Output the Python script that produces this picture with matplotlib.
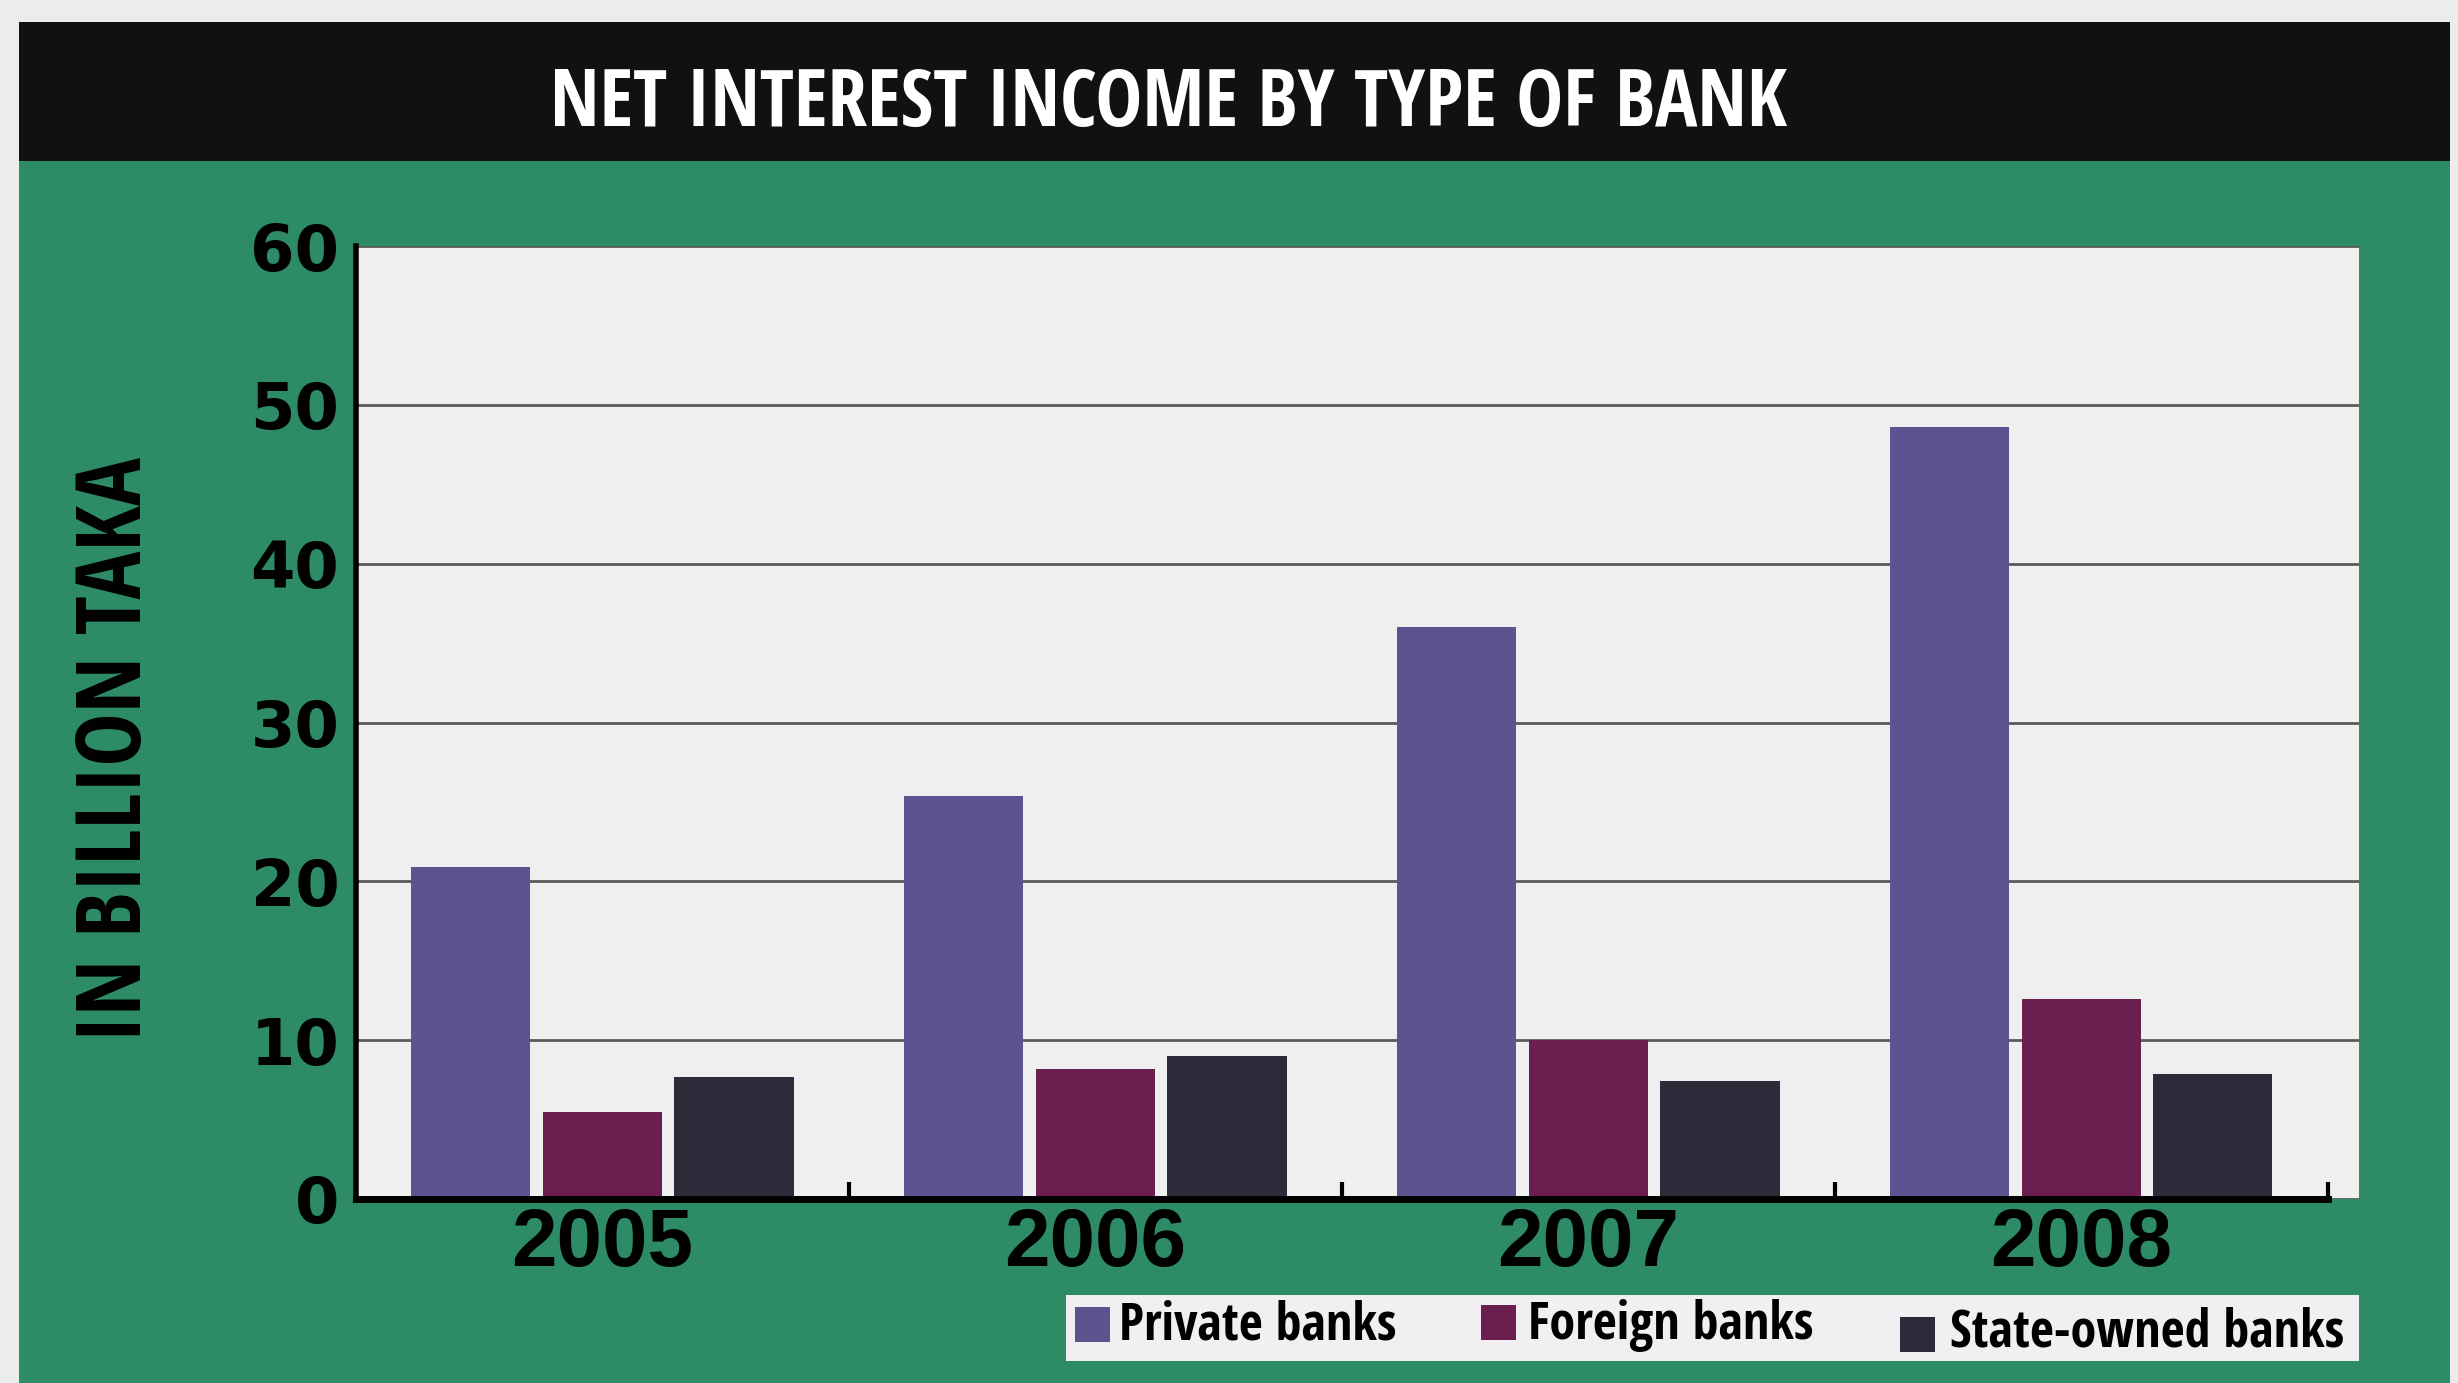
import matplotlib
matplotlib.use("Agg")
import matplotlib.pyplot as plt
from matplotlib import font_manager
from matplotlib.font_manager import FontProperties
from matplotlib.textpath import TextPath
from matplotlib.patches import Rectangle
import numpy as np

# ---- data ----
years = ["2005", "2006", "2007", "2008"]
series_names = ["Private banks", "Foreign banks", "State-owned banks"]
private = [20.9, 25.4, 36.0, 48.6]
foreign = [5.5, 8.2, 10.0, 12.6]
state = [7.7, 9.0, 7.4, 7.9]
yticks = [0, 10, 20, 30, 40, 50, 60]
title = "NET INTEREST INCOME BY TYPE OF BANK"
ylabel = "IN BILLION TAKA"

colors = ["#5e5290", "#6a1f4e", "#2e2a3a"]
green = "#2d8b66"
DPI = 100


def text_width(s, fp):
    p = TextPath((0, 0), s, size=100, prop=fp)
    return p.get_extents().width


def cap_height(fp):
    p = TextPath((0, 0), "N", size=100, prop=fp)
    return p.get_extents().height


def weight_num(w):
    if isinstance(w, (int, float)):
        return w
    return {"bold": 700, "heavy": 800, "black": 900, "semibold": 600, "demibold": 600,
            "extra bold": 800, "ultrabold": 800}.get(str(w).lower(), 400)


# choose a bold sans face whose proportions best match the condensed headline font
target_ratio = 1232 / 55.0
allowed = ("DejaVu Sans", "Noto Sans", "Liberation Sans", "Roboto", "Open Sans", "Lato", "Inter")
best = None
seen = set()
for f in font_manager.fontManager.ttflist:
    if not f.name.startswith(allowed):
        continue
    if any(k in f.name for k in ("Mono", "CJK", "Serif", "Math", "Display")):
        continue
    if weight_num(f.weight) < 700 or f.style != "normal":
        continue
    if f.fname in seen or not f.fname.lower().endswith((".ttf", ".otf")):
        continue
    seen.add(f.fname)
    try:
        fp = FontProperties(fname=f.fname)
        if abs(text_width("iiii", fp) - text_width("MMMM", fp)) < 5:
            continue  # monospaced
        r = text_width(title, fp) / cap_height(fp)
    except Exception:
        continue
    score = abs(r - target_ratio)
    if best is None or score < best[0]:
        best = (score, f.fname)

COND_FILE = best[1] if best else None


def cond_fp(size):
    if COND_FILE:
        return FontProperties(fname=COND_FILE, size=size)
    return FontProperties(family="DejaVu Sans", weight="bold", stretch="condensed", size=size)


def fit(s, target_px, maker):
    fp = maker(100)
    w100 = text_width(s, fp)  # width in units when size=100 pt
    return target_px * 72.0 * 100.0 / (w100 * DPI)


W, H = 2458, 1383
fig = plt.figure(figsize=(W / DPI, H / DPI), dpi=DPI)
fig.patch.set_facecolor("#ececec")


def fx(px):
    return px / W


def fy(py):
    return 1 - py / H


# green panel and black title band
fig.patches.append(Rectangle((fx(19), 0), fx(2450 - 19), fy(161), transform=fig.transFigure,
                             facecolor=green, edgecolor="none", zorder=-2))
fig.patches.append(Rectangle((fx(19), fy(161)), fx(2450 - 19), fy(22) - fy(161), transform=fig.transFigure,
                             facecolor="#121010", edgecolor="none", zorder=-2))
fig.text(fx(1168), fy(126), title, color="white",
         fontproperties=cond_fp(fit(title, 1232, cond_fp)), ha="center", va="baseline")

# axes
ax = fig.add_axes([fx(356), fy(1199), fx(2359 - 356), fy(246) - fy(1199)])
ax.set_zorder(5)
ax.set_facecolor("#efefef")
x = np.arange(len(years))
bw = 0.242
step = 0.267
for i, (vals, c) in enumerate(zip([private, foreign, state], colors)):
    ax.bar(x + (i - 1) * step, vals, width=bw, color=c, zorder=3, label=series_names[i])

ax.set_xlim(-0.5, 3.5 + 20 / 314.5)
ax.set_ylim(0, 60)
ax.set_yticks(yticks)
ax.set_yticklabels([str(v) for v in yticks], fontsize=46, fontweight="bold", family="DejaVu Sans")
ax.tick_params(axis="y", length=0, pad=12)


def year_fp(size):
    return FontProperties(family="Liberation Sans", weight="bold", size=size)


ax.set_xticks(x)
ax.set_xticklabels(years, fontproperties=year_fp(fit("2005", 177, year_fp)))
ax.tick_params(axis="x", length=0, pad=6)
ax.set_xticks([0.5, 1.5, 2.5, 3.5], minor=True)
ax.tick_params(axis="x", which="minor", direction="in", length=12, width=3, color="black")
ax.grid(axis="y", color="#5a5a5a", linewidth=2, zorder=1)
for s in ["top", "right"]:
    ax.spines[s].set_visible(False)
ax.spines["left"].set_linewidth(4)
ax.spines["bottom"].set_linewidth(5)
ax.spines["bottom"].set_bounds(-0.5, 3.5)
ax.spines["bottom"].set_zorder(5)

fig.text(fx(118), fy(749), ylabel, rotation=90,
         fontproperties=cond_fp(fit(ylabel, 578, cond_fp)),
         ha="center", va="center", color="black")

# legend (manual)
fig.patches.append(Rectangle((fx(1066), fy(1361)), fx(2359 - 1066), fy(1295) - fy(1361),
                             transform=fig.transFigure, facecolor="#f1eff1", edgecolor="none", zorder=1))
sq = [(1075, 1307), (1481, 1305), (1900, 1317)]
tx = [(1119, 1326), (1528, 1326), (1950, 1333)]
leg_size = fit("Private banks", 273, cond_fp)
for (sx, sy), (tx_, ty), c, name in zip(sq, tx, colors, series_names):
    fig.patches.append(Rectangle((fx(sx), fy(sy + 35)), fx(35), fy(sy) - fy(sy + 35),
                                 transform=fig.transFigure, facecolor=c, edgecolor="none", zorder=2))
    fig.text(fx(tx_), fy(ty), name, fontproperties=cond_fp(leg_size),
             ha="left", va="center", color="black", zorder=3)

fig.savefig("out.png", dpi=DPI, facecolor=fig.get_facecolor())
